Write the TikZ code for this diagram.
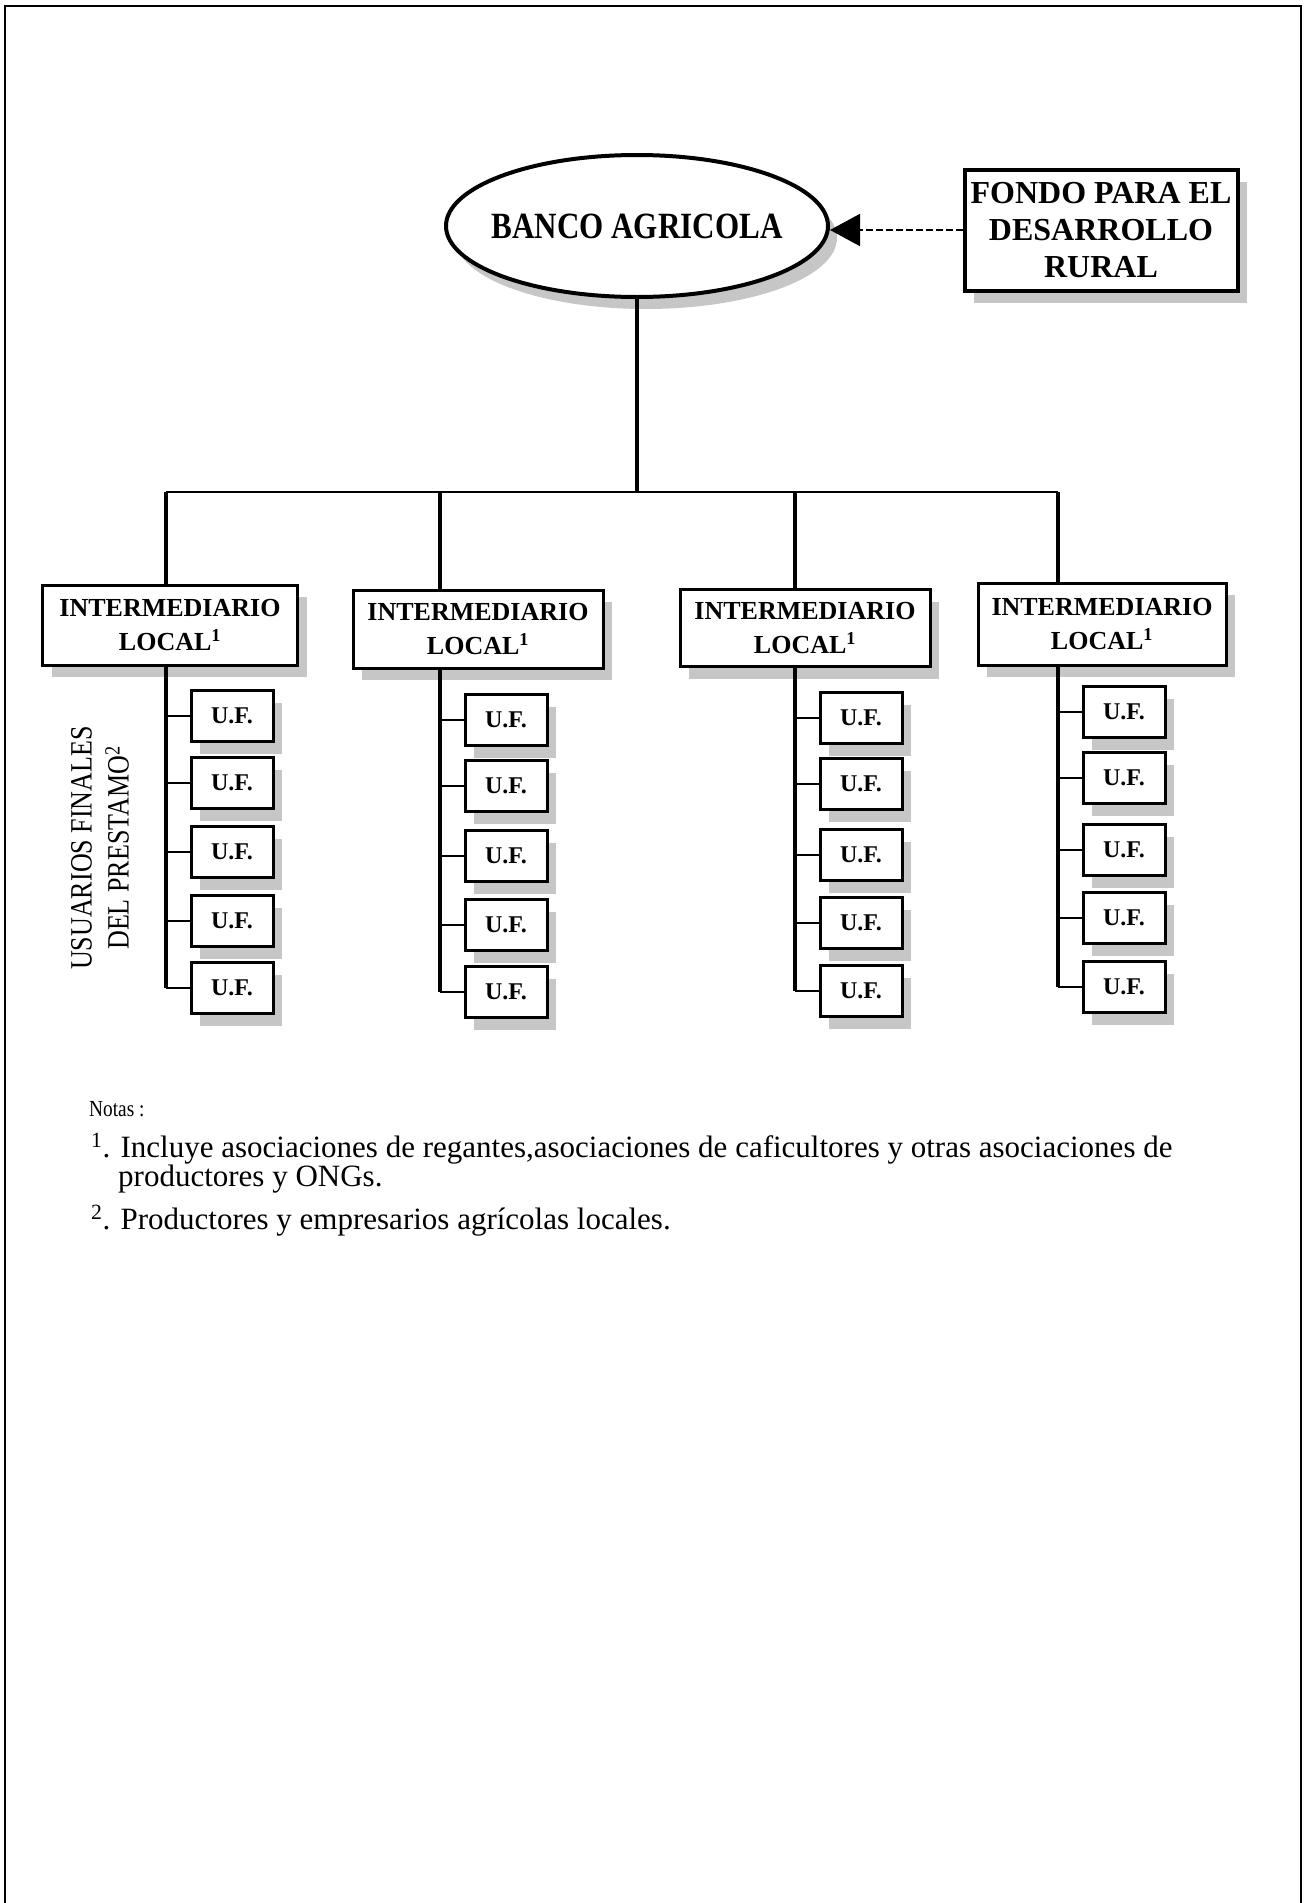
\documentclass[tikz,border=0pt]{standalone}
\usepackage{fontspec}
\setmainfont{Liberation Serif}
\newfontfamily\condfont[FakeStretch=0.84]{Liberation Serif}
\usetikzlibrary{arrows.meta,shapes.geometric,shadows}

\begin{document}
\begin{tikzpicture}[x=1pt,y=-1pt,
  shadowed/.style={drop shadow={shadow xshift=9pt,shadow yshift=-12pt,fill=gray!45,opacity=1}},
  imbox/.style={draw,line width=3pt,fill=white,shadowed,align=center,inner sep=0pt,
     font=\bfseries\fontsize{26}{34}\selectfont},
  ufbox/.style={draw,line width=3pt,fill=white,shadowed,minimum width=82pt,minimum height=51pt,
     inner sep=0pt,font=\bfseries\fontsize{24}{28}\selectfont},
  conn/.style={line width=2pt},
  stem/.style={line width=3.5pt},
  note/.style={anchor=base west,inner sep=0pt,font=\fontsize{31}{30}\selectfont}
]
\useasboundingbox (0,0) rectangle (1305,1903);
% page frame
\draw[line width=2pt] (5,1903) -- (5,6) -- (1301,6) -- (1301,1903);

% top level
\node[ellipse,draw,line width=4pt,fill=white,shadowed,minimum width=382pt,minimum height=142pt,
      inner xsep=-30pt,inner ysep=0pt,
      font=\condfont\bfseries\fontsize{37}{40}\selectfont] (banco) at (637,226) {BANCO AGRICOLA};
\node[draw,line width=4pt,fill=white,shadowed,minimum width=273pt,minimum height=121pt,align=center,inner sep=0pt,
      font=\bfseries\fontsize{32}{37}\selectfont] (fondo) at (1101,230) {FONDO PARA EL\\DESARROLLO\\RURAL};
\draw[line width=2pt,dash pattern=on 7pt off 3pt,-{Triangle[length=30pt,width=32pt]}] (fondo.west) -- (fondo.west -| banco.east);

% intermediaries
\node[imbox,minimum width=255pt,minimum height=80pt] (im1) at (170,625) {INTERMEDIARIO\\LOCAL\textsuperscript{1}};
\node[imbox,minimum width=250pt,minimum height=78pt] (im2) at (478,629) {INTERMEDIARIO\\LOCAL\textsuperscript{1}};
\node[imbox,minimum width=250pt,minimum height=77pt] (im3) at (805,628) {INTERMEDIARIO\\LOCAL\textsuperscript{1}};
\node[imbox,minimum width=248pt,minimum height=82pt] (im4) at (1102,624) {INTERMEDIARIO\\LOCAL\textsuperscript{1}};

% bar and drops
\coordinate (d1) at (166,492);
\coordinate (d2) at (440,492);
\coordinate (d3) at (795,492);
\coordinate (d4) at (1058,492);
\draw[stem] (banco.south) -- (banco.south |- d1);
\draw[conn] (d1) -- (d4);
\draw[stem] (d1) -- (d1 |- im1.north);
\draw[stem] (d2) -- (d2 |- im2.north);
\draw[stem] (d3) -- (d3 |- im3.north);
\draw[stem] (d4) -- (d4 |- im4.north);

% U.F. stacks
\foreach \s/\cx/\ya/\yb/\yc/\yd/\ye in {1/232/716/783/852/921/988, 2/506/720/786/856/925/992,
    3/861/718/784/855/923/991, 4/1124/712/778/850/918/987}{
  \node[ufbox] (uf\s1) at (\cx,\ya) {U.F.};
  \node[ufbox] (uf\s2) at (\cx,\yb) {U.F.};
  \node[ufbox] (uf\s3) at (\cx,\yc) {U.F.};
  \node[ufbox] (uf\s4) at (\cx,\yd) {U.F.};
  \node[ufbox] (uf\s5) at (\cx,\ye) {U.F.};
  \draw[stem] (d\s |- im\s.south) -- (d\s |- uf\s5.west);
  \foreach \k in {1,...,5}{
    \draw[conn] (d\s |- uf\s\k.west) -- (uf\s\k.west);
  }
}

% side label
\node[rotate=90,align=center,inner sep=0pt,font=\condfont\fontsize{31}{37}\selectfont] (usu) at (100,848)
  {USUARIOS FINALES\\DEL PRESTAMO\textsuperscript{2}};

% notes
\node[note,font=\condfont\fontsize{23}{24}\selectfont] (notas) at (89,1116) {Notas :};
\node[note] (n1) at (91,1157) {\textsuperscript{1}. Incluye asociaciones de regantes,asociaciones de caficultores y otras asociaciones de};
\node[note] (n1b) at (118,1186) {productores y ONGs.};
\node[note] (n2) at (91,1229) {\textsuperscript{2}. Productores y empresarios agrícolas locales.};
\end{tikzpicture}
\end{document}
